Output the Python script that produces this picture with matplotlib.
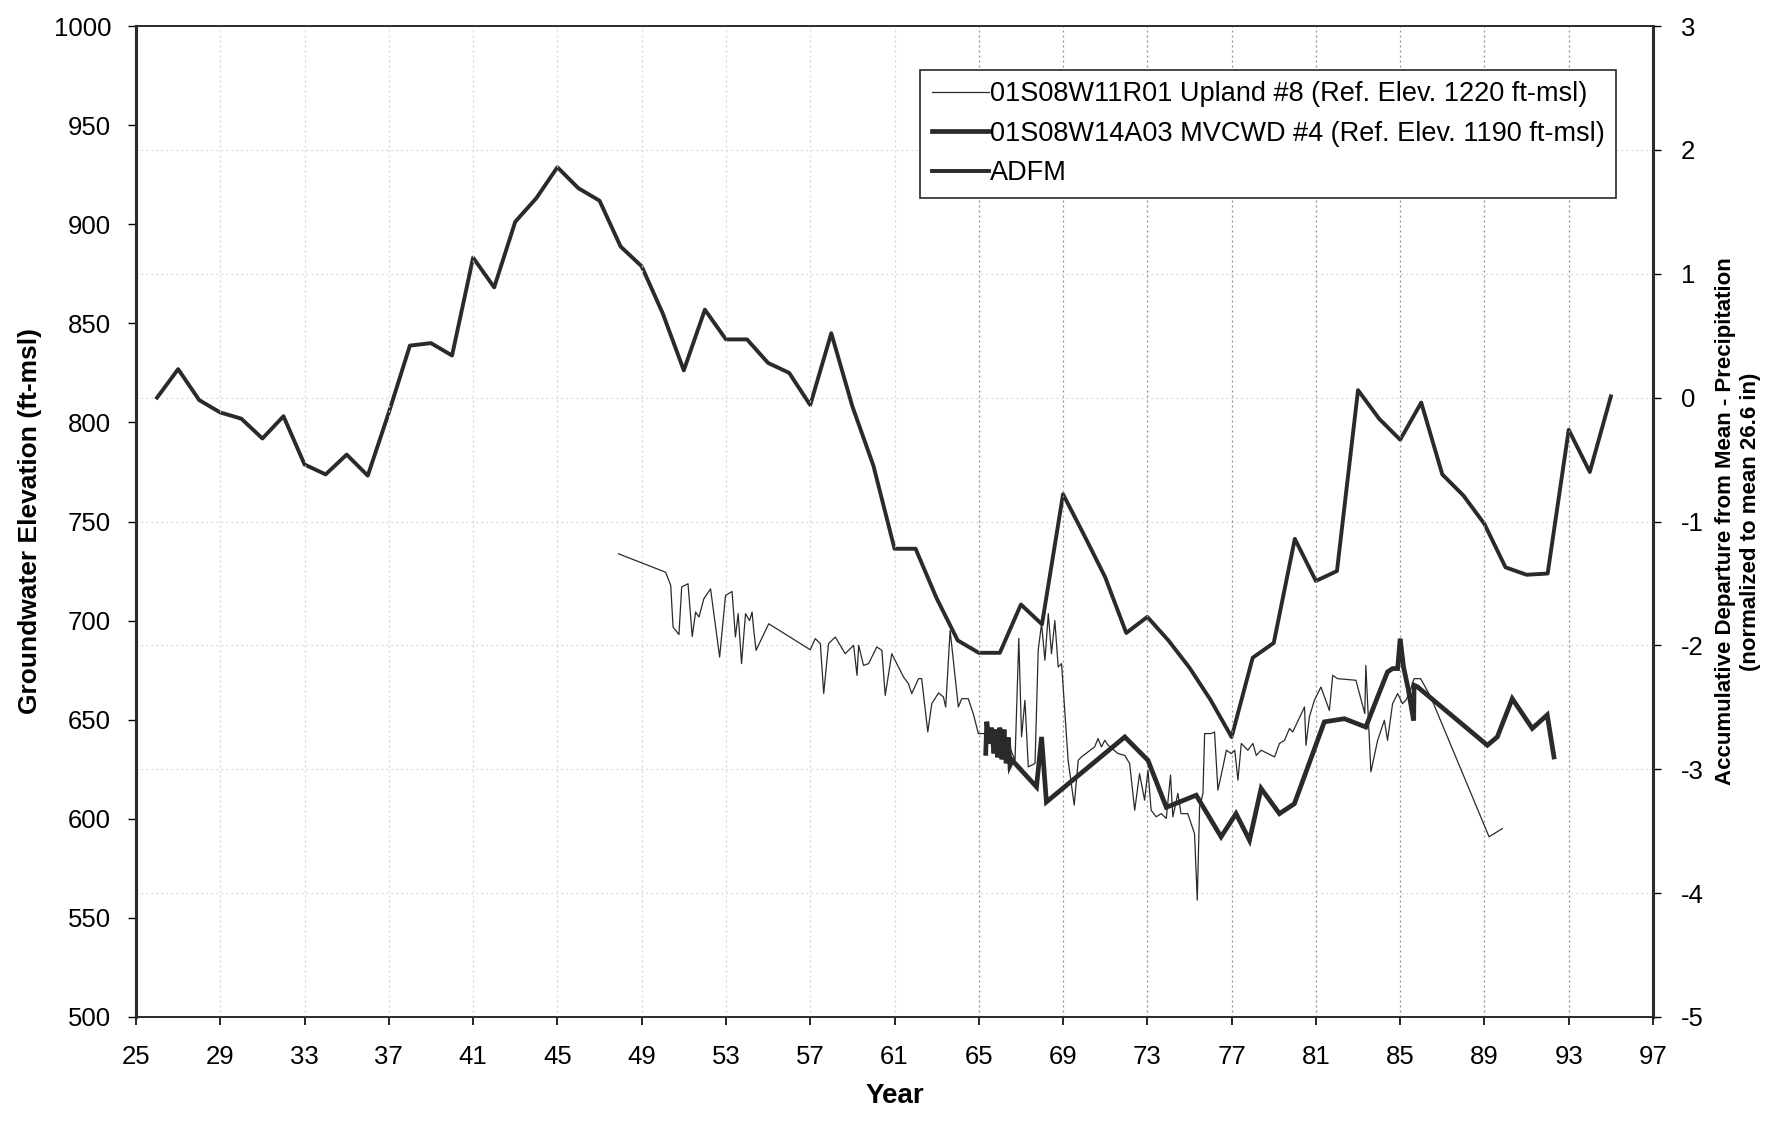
"""Groundwater elevation hydrographs vs accumulative departure of precipitation"""
import numpy as np
import matplotlib.pyplot as plt

plt.rcParams['font.family'] = ['Liberation Sans', 'DejaVu Sans']
plt.rcParams['axes.unicode_minus'] = False

# 01S08W11R01 Upland #8 (thin line) - year, elevation ft-msl
upland_year = [47.9, 50.14, 50.38, 50.49, 50.77, 50.9, 51.2, 51.4, 51.56, 51.72,
               51.95, 52.27, 52.7, 52.98, 53.29, 53.45, 53.58, 53.74, 53.93, 54.12,
               54.24, 54.32, 54.43, 55.03, 57.0, 57.24, 57.48, 57.64, 57.87, 58.19,
               58.66, 59.06, 59.22, 59.3, 59.53, 59.77, 60.16, 60.4, 60.56, 60.87,
               61.43, 61.66, 61.82, 62.14, 62.29, 62.58, 62.77, 63.09, 63.32, 63.43,
               63.64, 64.03, 64.19, 64.5, 64.74, 64.98, 65.3, 65.9, 66.4, 66.72,
               66.9, 67.03, 67.19, 67.35, 67.67, 67.82, 67.98, 68.14, 68.3, 68.45,
               68.61, 68.77, 68.93, 69.24, 69.53, 69.72, 69.87, 70.5, 70.66, 70.82,
               70.98, 71.14, 71.61, 71.93, 72.16, 72.4, 72.63, 72.87, 73.03, 73.18,
               73.42, 73.66, 73.9, 74.1, 74.21, 74.45, 74.6, 74.92, 75.24, 75.37,
               75.48, 75.64, 75.72, 76.03, 76.19, 76.35, 76.59, 76.75, 76.99, 77.15,
               77.3, 77.46, 77.77, 78.01, 78.17, 78.4, 79.04, 79.27, 79.51, 79.75,
               79.9, 80.46, 80.53, 80.69, 80.93, 81.24, 81.64, 81.8, 82.03, 82.9,
               83.32, 83.37, 83.61, 83.93, 84.25, 84.4, 84.64, 84.88, 85.11, 85.27,
               85.43, 85.66, 85.97, 86.45, 89.22, 89.85]
upland_elev = [733.7, 724.4, 717.7, 696.7, 693, 717, 718.6, 692, 704.3, 701.8,
               711, 716, 681.6, 712.7, 714.7, 691.7, 703.5, 678.3, 703.5, 700,
               704.3, 695, 685, 698.4, 685.3, 690.9, 688.4, 663.2, 688.4, 691.7,
               683.3, 687.5, 672.4, 687.5, 677.4, 678.3, 686.7, 685, 662.3, 683.3,
               671.5, 668.2, 663.2, 670.7, 670.7, 643.8, 658.1, 663.5, 661.5, 656.4,
               695, 656.4, 660.6, 660.6, 653, 643, 643, 642, 638, 629.5,
               691, 641.3, 659.8, 626.2, 627.9, 685, 698.4, 680, 703.5, 683.3,
               700, 676.6, 678.3, 629.5, 606.9, 629.5, 631.2, 636.3, 640.5, 636.3,
               639.6, 637.1, 632.9, 632, 627.9, 604.3, 622.8, 609.4, 624.5, 604.3,
               601, 602.6, 600.2, 622, 601, 612.8, 602.6, 602.6, 592.5, 559,
               606, 612.8, 643, 643, 643.8, 614.5, 626.2, 634.6, 632.9, 634.6,
               619.5, 638, 634.6, 638, 632, 634.6, 631.2, 638, 639.6, 645.6,
               643.8, 656.4, 637.1, 651.4, 659.8, 666.5, 654.7, 672.4, 670.7, 669.9,
               653.1, 677.4, 623.7, 639.6, 649.7, 639.6, 658.1, 663.2, 658.1, 659.8,
               663.2, 670.7, 670.7, 661.5, 590.9, 595.1]

# 01S08W14A03 MVCWD #4 (thick line)
mvcwd_year = [65.33, 65.38, 65.5, 65.61, 65.72, 65.8, 65.9, 66.0, 66.1, 66.2,
              66.3, 66.4, 66.48, 66.59, 67.74, 67.98, 68.21, 71.93, 73.03, 73.9,
              75.32, 76.5, 77.21, 77.85, 78.4, 79.27, 79.98, 81.4, 82.35, 83.37,
              83.93, 84.4, 84.64, 84.88, 85.0, 85.16, 85.38, 85.64, 85.66, 85.82,
              89.14, 89.61, 90.32, 91.27, 91.98, 92.3]
mvcwd_elev = [633, 649, 638, 646, 633, 645, 631, 646, 630, 645,
              628, 641, 627, 629.5, 616.1, 641.3, 608.5, 641.3, 629.5, 605.8,
              611.9, 590.9, 602.6, 589.2, 615.3, 602.6, 607.6, 648.9, 650.5, 646.3,
              661.5, 674.1, 675.8, 675.8, 690.9, 676.6, 665.6, 649.5, 667.4, 666.6,
              637.1, 641.3, 660.6, 645.6, 652.4, 631.2]

# ADFM - accumulative departure from mean precipitation (right axis)
adfm_year = list(range(26, 96))
adfm = [0.0, 0.23, -0.02, -0.12, -0.17, -0.33, -0.15, -0.54, -0.62, -0.46,
        -0.63, -0.12, 0.42, 0.44, 0.34, 1.13, 0.89, 1.42, 1.61, 1.86,
        1.69, 1.59, 1.22, 1.06, 0.68, 0.22, 0.71, 0.47, 0.47, 0.28,
        0.20, -0.06, 0.52, -0.07, -0.55, -1.22, -1.22, -1.62, -1.96, -2.06,
        -2.06, -1.67, -1.83, -0.78, -1.11, -1.45, -1.90, -1.77, -1.96, -2.18,
        -2.44, -2.74, -2.10, -1.98, -1.14, -1.48, -1.40, 0.06, -0.17, -0.34,
        -0.04, -0.62, -0.79, -1.02, -1.37, -1.43, -1.42, -0.26, -0.60, 0.01]

xticks = np.arange(25, 98, 4)
color = '#2a2a2a'

fig = plt.figure(figsize=(17.78, 11.22), dpi=100)
ax = fig.add_axes([136 / 1778, 1 - 1017 / 1122, (1653 - 136) / 1778, (1017 - 26) / 1122])
ax2 = ax.twinx()

l1, = ax.plot(upland_year, upland_elev, '-', color=color, linewidth=0.9)
l2, = ax.plot(mvcwd_year, mvcwd_elev, '-', color=color, linewidth=3.4, solid_joinstyle='miter')
l3, = ax2.plot(adfm_year, adfm, '-', color=color, linewidth=2.8)

ax.set_xlim(25, 97)
ax.set_ylim(500, 1000)
ax2.set_ylim(-5, 3)
ax.set_xticks(xticks)
ax.set_yticks(np.arange(500, 1001, 50))
ax2.set_yticks(np.arange(-5, 4, 1))

# gridlines: vertical at year ticks (faint on the early years, as scanned), horizontal at right ticks
for x in xticks[1:-1]:
    shade = '#d4d4d4' if x < 63 else '#8c8c8c'
    ax.axvline(x, color=shade, linestyle=(0, (1.5, 2.5)), linewidth=0.9, zorder=0)
for y in np.arange(-4, 3, 1):
    ax2.axhline(y, color='#d0d0d0', linestyle=(0, (1.5, 3)), linewidth=0.8, zorder=0)

ax.tick_params(axis='x', direction='out', length=6, width=1.2, pad=14, labelsize=18.5)
ax.tick_params(axis='y', direction='out', length=6, width=1.0, pad=12, labelsize=18.5)
ax2.tick_params(axis='y', direction='out', length=6, width=1.0, pad=14, labelsize=18.5)
for a in (ax, ax2):
    for s in a.spines.values():
        s.set_color(color)
        s.set_linewidth(1.2)
ax.spines['left'].set_linewidth(2.2)
ax2.spines['right'].set_linewidth(2.2)
ax2.spines['left'].set_linewidth(2.2)

ax.set_ylabel("Groundwater Elevation (ft-msl)", labelpad=8, fontsize=19, fontweight='bold')
ax.set_xlabel("Year", labelpad=10, fontsize=20, fontweight='bold')
ax2.set_ylabel("Accumulative Departure from Mean - Precipitation\n(normalized to mean 26.6 in)",
               labelpad=8, linespacing=1.25, fontsize=16, fontweight='bold')

ax.legend([l1, l2, l3],
          ["01S08W11R01 Upland #8 (Ref. Elev. 1220 ft-msl)",
           "01S08W14A03 MVCWD #4 (Ref. Elev. 1190 ft-msl)",
           "ADFM"],
          loc="upper right", bbox_to_anchor=(0.9756, 0.9556), fontsize=19.5,
          fancybox=False, framealpha=1, edgecolor=color, handlelength=2.1,
          handletextpad=0.05, labelspacing=0.5, borderpad=0.42, borderaxespad=0)
ax.legend_.get_frame().set_linewidth(1.2)
ax.set_zorder(ax2.get_zorder() + 1)
ax.patch.set_visible(False)

plt.savefig("out.png", dpi=100)
